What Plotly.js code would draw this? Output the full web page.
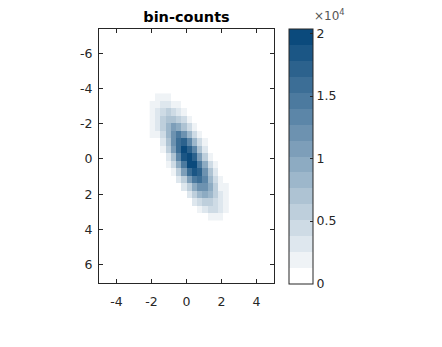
<!DOCTYPE html>
<html>
<head>
<meta charset="utf-8">
<script src="https://cdn.plot.ly/plotly-3.0.1.min.js"></script>
<style>html,body{margin:0;padding:0;background:#fff;}#chart{width:442px;height:347px;}</style>
</head>
<body>
<div id="chart"></div>
<script>
// Bin centers
var xCenters = [-1.95, -1.65, -1.35, -1.05, -0.75, -0.45, -0.15, 0.15, 0.45, 0.75, 1.05, 1.35, 1.65, 1.95, 2.25];
var yCenters = [-3.5075, -3.0825, -2.6575, -2.2325, -1.8075, -1.3825, -0.9575, -0.5325, -0.1075, 0.3175, 0.7425, 1.1675, 1.5925, 2.0175, 2.4425, 2.8675, 3.2925];

// Bin counts (rows follow yCenters, columns follow xCenters)
var counts = [
  [1264, 1724, 1831, 1514, 975, 489, 191, 58, 14, 3, 0, 0, 0, 0, 0],
  [1574, 2516, 3133, 3038, 2294, 1349, 618, 220, 61, 13, 2, 0, 0, 0, 0],
  [1651, 3094, 4520, 5137, 4548, 3137, 1684, 704, 229, 58, 11, 2, 0, 0, 0],
  [1460, 3205, 5489, 7315, 7594, 6139, 3865, 1897, 724, 215, 50, 9, 1, 0, 0],
  [1400, 2783, 5590, 8748, 10658, 10113, 7474, 4299, 1928, 673, 183, 39, 6, 1, 0],
  [1300, 2045, 4815, 8835, 12626, 14046, 12169, 8213, 4315, 1767, 563, 140, 27, 4, 0],
  [356, 1264, 3488, 7504, 12565, 16390, 16653, 13176, 8118, 3897, 1456, 424, 96, 17, 2],
  [158, 656, 2123, 5365, 10537, 16114, 19202, 17812, 12872, 7237, 3175, 1083, 288, 60, 10],
  [59, 287, 1089, 3223, 7431, 13335, 18640, 20400, 17203, 11360, 5843, 2341, 731, 177, 34],
  [18, 106, 470, 1633, 4412, 9286, 15222, 19432, 19312, 14954, 9016, 4238, 1549, 442, 98],
  [5, 33, 172, 696, 2209, 5454, 10486, 15688, 18290, 16604, 11737, 6462, 2773, 925, 241],
  [0, 9, 53, 251, 931, 2694, 6071, 10653, 14565, 15504, 12852, 8298, 4172, 1634, 499],
  [0, 2, 14, 75, 329, 1117, 2953, 6084, 9758, 12188, 11860, 8985, 5301, 2435, 1400],
  [0, 0, 3, 19, 98, 392, 1214, 2935, 5517, 8082, 9220, 8191, 5667, 3054, 1381],
  [0, 0, 0, 4, 25, 116, 419, 1189, 2621, 4504, 6025, 6275, 5091, 3216, 1582],
  [0, 0, 0, 0, 5, 29, 122, 406, 1050, 2113, 3314, 4048, 3851, 2853, 1300],
  [0, 0, 0, 0, 0, 6, 30, 116, 353, 834, 1200, 2199, 2455, 2134, 1150]
];

var xTickVals = [-4, -2, 0, 2, 4];
var xTickText = ['-4', '-2', '0', '2', '4'];
var yTickVals = [-6, -4, -2, 0, 2, 4, 6];
var yTickText = ['-6', '-4', '-2', '0', '2', '4', '6'];
var cbTickVals = [0, 5000, 10000, 15000, 20000];
var cbTickText = ['0', '0.5', '1', '1.5', '2'];
var zMax = 20400;
var nLevels = 16;

// Discrete colormap: white -> dark blue
var c0 = [255, 255, 255], c1 = [11, 74, 124];
var colorscale = [];
for (var k = 0; k < nLevels; k++) {
  var t = k / (nLevels - 1);
  var col = 'rgb(' + c0.map(function (v, i) { return Math.round(v + (c1[i] - v) * t); }).join(',') + ')';
  colorscale.push([k / nLevels, col]);
  colorscale.push([(k + 1) / nLevels, col]);
}

var txt = '#262626';
var fontFam = 'DejaVu Sans, sans-serif';

var trace = {
  type: 'heatmap',
  x: xCenters,
  y: yCenters,
  z: counts,
  zmin: 0,
  zmax: zMax,
  colorscale: colorscale,
  hoverinfo: 'skip',
  colorbar: {
    x: 1.086, xanchor: 'left', xpad: 0,
    y: 0.5, yanchor: 'middle', ypad: 0,
    len: 1.004, lenmode: 'fraction',
    thickness: 24, thicknessmode: 'pixels',
    outlinewidth: 1, outlinecolor: txt,
    ticks: 'inside', ticklen: 3, tickcolor: txt,
    tickvals: cbTickVals, ticktext: cbTickText,
    ticklabelstandoff: 3,
    tickfont: {family: fontFam, size: 12.5, color: txt}
  }
};

var axisCommon = {
  showgrid: false, zeroline: false,
  showline: true, linecolor: txt, linewidth: 1, mirror: 'ticks',
  ticks: 'inside', ticklen: 4, tickcolor: txt, tickwidth: 1,
  tickfont: {family: fontFam, size: 12.5, color: txt}
};

var layout = {
  width: 442, height: 347,
  margin: {l: 99, r: 168, t: 29, b: 64, pad: 0},
  paper_bgcolor: '#ffffff', plot_bgcolor: '#ffffff',
  title: {
    text: '<b>bin-counts</b>',
    font: {family: fontFam, size: 14.5, color: '#000000'},
    x: 0.5, xref: 'paper', xanchor: 'center',
    y: 1, yref: 'paper', yanchor: 'bottom', pad: {b: 7}
  },
  xaxis: Object.assign({}, axisCommon, {
    range: [-5, 5], tickvals: xTickVals, ticktext: xTickText,
    ticklabelstandoff: 7
  }),
  yaxis: Object.assign({}, axisCommon, {
    range: [7.04, -7.38], tickvals: yTickVals, ticktext: yTickText,
    ticklabelstandoff: 3
  }),
  annotations: [{
    text: '×10<sup>4</sup>', xref: 'paper', yref: 'paper',
    x: 1.215, y: 1.055, xanchor: 'left', yanchor: 'middle',
    showarrow: false, font: {family: fontFam, size: 12, color: '#555555'}
  }]
};

Plotly.newPlot('chart', [trace], layout, {displayModeBar: false, staticPlot: true});
</script>
</body>
</html>
